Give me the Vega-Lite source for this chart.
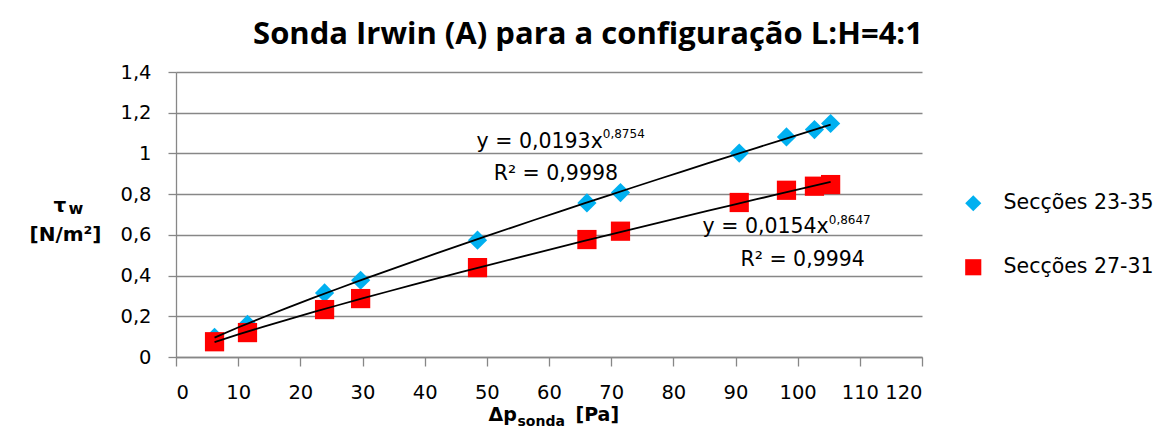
{
  "$schema": "https://vega.github.io/schema/vega-lite/v6.json",
  "width": 746,
  "height": 285,
  "autosize": {"type": "none"},
  "padding": {"left": 176, "top": 72, "right": 251, "bottom": 75},
  "background": "white",
  "title": {
    "text": "Sonda Irwin (A) para a configuração L:H=4:1",
    "font": "Open Sans",
    "fontWeight": "bold",
    "fontSize": 31,
    "color": "black",
    "anchor": "middle",
    "frame": "group",
    "dx": 39,
    "offset": 11
  },
  "config": {
    "view": {"stroke": null},
    "axis": {
      "labelFont": "DejaVu Sans",
      "labelFontSize": 19.5,
      "labelColor": "black",
      "titleFont": "DejaVu Sans",
      "titleFontWeight": "bold",
      "titleColor": "black",
      "domainColor": "#878787",
      "tickColor": "#878787",
      "gridColor": "#878787",
      "domainWidth": 1.3,
      "tickWidth": 1.3,
      "gridWidth": 1.3
    }
  },
  "datasets": {
    "points": [
      {"series": "Secções 23-35", "dp": 6.2, "tau": 0.097},
      {"series": "Secções 23-35", "dp": 11.5, "tau": 0.16},
      {"series": "Secções 23-35", "dp": 23.9, "tau": 0.315},
      {"series": "Secções 23-35", "dp": 29.7, "tau": 0.377},
      {"series": "Secções 23-35", "dp": 48.5, "tau": 0.574},
      {"series": "Secções 23-35", "dp": 66.1, "tau": 0.757},
      {"series": "Secções 23-35", "dp": 71.5, "tau": 0.808},
      {"series": "Secções 23-35", "dp": 90.6, "tau": 1.002},
      {"series": "Secções 23-35", "dp": 98.2, "tau": 1.081},
      {"series": "Secções 23-35", "dp": 102.7, "tau": 1.117},
      {"series": "Secções 23-35", "dp": 105.3, "tau": 1.147},
      {"series": "Secções 27-31", "dp": 6.2, "tau": 0.075},
      {"series": "Secções 27-31", "dp": 11.5, "tau": 0.12},
      {"series": "Secções 27-31", "dp": 23.9, "tau": 0.233},
      {"series": "Secções 27-31", "dp": 29.7, "tau": 0.287},
      {"series": "Secções 27-31", "dp": 48.5, "tau": 0.439},
      {"series": "Secções 27-31", "dp": 66.1, "tau": 0.577},
      {"series": "Secções 27-31", "dp": 71.5, "tau": 0.618},
      {"series": "Secções 27-31", "dp": 90.6, "tau": 0.759},
      {"series": "Secções 27-31", "dp": 98.2, "tau": 0.819},
      {"series": "Secções 27-31", "dp": 102.7, "tau": 0.839},
      {"series": "Secções 27-31", "dp": 105.3, "tau": 0.847}
    ],
    "notes": [
      {"kind": "eq", "text": "y = 0,0193x", "dp": 68.65, "tau": 1.0256},
      {"kind": "sup", "text": "0,8754", "dp": 68.65, "tau": 1.0747},
      {"kind": "r2", "text": "R² = 0,9998", "dp": 61.1, "tau": 0.868},
      {"kind": "eq", "text": "y = 0,0154x", "dp": 105.0, "tau": 0.608},
      {"kind": "sup", "text": "0,8647", "dp": 105.0, "tau": 0.652},
      {"kind": "r2", "text": "R² = 0,9994", "dp": 100.8, "tau": 0.4455}
    ]
  },
  "layer": [
    {
      "data": {"name": "points"},
      "mark": {"type": "point", "filled": true, "opacity": 1, "size": 370, "strokeWidth": 0},
      "encoding": {
        "x": {
          "field": "dp", "type": "quantitative",
          "scale": {"domain": [0, 120], "nice": false, "zero": false},
          "axis": {
            "orient": "bottom",
            "values": [0, 10, 20, 30, 40, 50, 60, 70, 80, 90, 100, 110, 120],
            "grid": false, "tickSize": 9, "labelPadding": 17,
            "labelExpr": "replace(format(datum.value, '~g'), '.', ',')",
            "title": "Δp", "titleFontSize": 19, "titleX": 312, "titleY": 63,
            "titleAlign": "left", "titleBaseline": "alphabetic", "titleAngle": 0
          }
        },
        "y": {
          "field": "tau", "type": "quantitative",
          "scale": {"domain": [0, 1.4], "nice": false, "zero": false},
          "axis": {
            "orient": "left",
            "values": [0, 0.2, 0.4, 0.6, 0.8, 1, 1.2, 1.4],
            "grid": true, "tickSize": 8, "labelPadding": 17,
            "labelExpr": "replace(format(datum.value, '~g'), '.', ',')",
            "title": "[N/m²]", "titleFontSize": 20, "titleX": -147, "titleY": 168,
            "titleAlign": "left", "titleBaseline": "alphabetic", "titleAngle": 0
          }
        },
        "color": {
          "field": "series", "type": "nominal",
          "scale": {"domain": ["Secções 23-35", "Secções 27-31"], "range": ["#00B0F0", "#FF0000"]},
          "legend": {"orient": "none", "legendX": 787, "legendY": 121, "title": null, "labelFont": "DejaVu Sans", "labelFontSize": 20.5, "labelColor": "black", "symbolSize": 260, "rowPadding": 43, "labelOffset": 20, "padding": 0, "symbolStrokeWidth": 0}
        },
        "shape": {
          "field": "series", "type": "nominal",
          "scale": {"domain": ["Secções 23-35", "Secções 27-31"], "range": ["diamond", "square"]},
          "legend": {"orient": "none", "legendX": 787, "legendY": 121, "title": null, "labelFont": "DejaVu Sans", "labelFontSize": 20.5, "labelColor": "black", "symbolSize": 260, "rowPadding": 43, "labelOffset": 20, "padding": 0, "symbolStrokeWidth": 0}
        }
      }
    },
    {
      "data": {"name": "points"},
      "transform": [
        {"regression": "tau", "on": "dp", "groupby": ["series"], "method": "pow"}
      ],
      "mark": {"type": "line", "color": "black", "strokeWidth": 1.8},
      "encoding": {
        "x": {
          "field": "dp", "type": "quantitative",
          "axis": {"orient": "bottom", "labels": false, "ticks": false, "domain": false, "grid": false,
            "title": "sonda", "titleFontSize": 14, "titleX": 341, "titleY": 68,
            "titleAlign": "left", "titleBaseline": "alphabetic", "titleAngle": 0}
        },
        "y": {
          "field": "tau", "type": "quantitative",
          "axis": {"orient": "left", "labels": false, "ticks": false, "domain": false, "grid": false,
            "title": "τ", "titleFontSize": 20, "titleX": -123, "titleY": 139,
            "titleAlign": "left", "titleBaseline": "alphabetic", "titleAngle": 0}
        },
        "detail": {"field": "series", "type": "nominal"}
      }
    },
    {
      "data": {"name": "notes"},
      "transform": [{"filter": "datum.kind == 'eq'"}],
      "mark": {"type": "text", "align": "right", "baseline": "alphabetic", "font": "DejaVu Sans", "fontSize": 20.5, "color": "black"},
      "encoding": {
        "x": {
          "field": "dp", "type": "quantitative",
          "axis": {"orient": "bottom", "labels": false, "ticks": false, "domain": false, "grid": false,
            "title": "[Pa]", "titleFontSize": 19, "titleX": 399, "titleY": 63,
            "titleAlign": "left", "titleBaseline": "alphabetic", "titleAngle": 0}
        },
        "y": {
          "field": "tau", "type": "quantitative",
          "axis": {"orient": "left", "labels": false, "ticks": false, "domain": false, "grid": false,
            "title": "w", "titleFontSize": 16, "titleX": -108, "titleY": 141,
            "titleAlign": "left", "titleBaseline": "alphabetic", "titleAngle": 0}
        },
        "text": {"field": "text", "type": "nominal"}
      }
    },
    {
      "data": {"name": "notes"},
      "transform": [{"filter": "datum.kind == 'sup'"}],
      "mark": {"type": "text", "align": "left", "baseline": "alphabetic", "font": "DejaVu Sans", "fontSize": 12, "color": "black"},
      "encoding": {
        "x": {"field": "dp", "type": "quantitative", "axis": null},
        "y": {"field": "tau", "type": "quantitative", "axis": null},
        "text": {"field": "text", "type": "nominal"}
      }
    },
    {
      "data": {"name": "notes"},
      "transform": [{"filter": "datum.kind == 'r2'"}],
      "mark": {"type": "text", "align": "center", "baseline": "alphabetic", "font": "DejaVu Sans", "fontSize": 20.5, "color": "black"},
      "encoding": {
        "x": {"field": "dp", "type": "quantitative", "axis": null},
        "y": {"field": "tau", "type": "quantitative", "axis": null},
        "text": {"field": "text", "type": "nominal"}
      }
    }
  ],
  "resolve": {"axis": {"x": "independent", "y": "independent"}}
}
